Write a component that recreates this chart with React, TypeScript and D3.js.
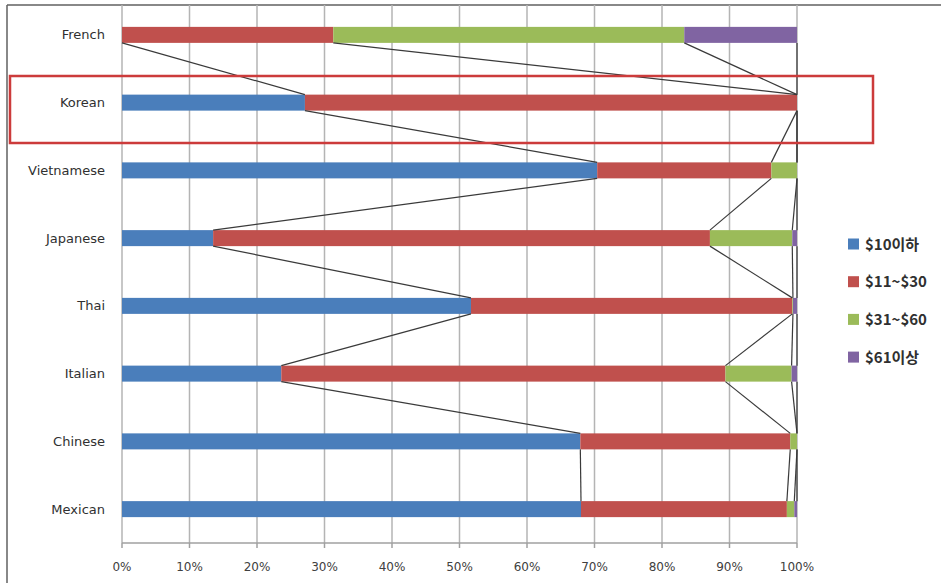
import React from "react";
import * as d3 from "d3";

const categories = ["French", "Korean", "Vietnamese", "Japanese", "Thai", "Italian", "Chinese", "Mexican"];
const seriesNames = ["$10이하", "$11~$30", "$31~$60", "$61이상"];
const under10 = [0, 27.1, 70.4, 13.5, 51.7, 23.6, 67.9, 68.0];
const from11to30 = [31.3, 72.9, 25.8, 73.6, 47.6, 65.8, 31.1, 30.5];
const from31to60 = [52.0, 0, 3.8, 12.2, 0.1, 9.8, 1.0, 1.1];
const over61 = [16.7, 0, 0, 0.7, 0.6, 0.8, 0, 0.4];
const tickValues = [0, 10, 20, 30, 40, 50, 60, 70, 80, 90, 100];
const colors = ["#4a7ebb", "#c0504d", "#9bbb59", "#8064a2"];

const W = 941;
const H = 583;
const left = 122;
const right = 797;
const top = 1;
const bottom = 543;
const barH = 16;

export default function App() {
  const rows = categories.map((c, i) => ({
    cat: c,
    s0: under10[i],
    s1: from11to30[i],
    s2: from31to60[i],
    s3: over61[i],
  }));
  const keys = ["s0", "s1", "s2", "s3"];
  const stacked = d3.stack<any>().keys(keys)(rows);
  const x = d3.scaleLinear().domain([0, 100]).range([left, right]);
  const y = d3.scaleBand().domain(categories).range([top, bottom]).paddingInner(0).paddingOuter(0);
  const cy = (c: string) => (y(c) as number) + y.bandwidth() / 2;

  const seriesLines: { x1: number; y1: number; x2: number; y2: number }[] = [];
  stacked.forEach((layer) => {
    for (let i = 0; i < categories.length - 1; i++) {
      seriesLines.push({
        x1: x(layer[i][1]),
        y1: cy(categories[i]) + barH / 2,
        x2: x(layer[i + 1][1]),
        y2: cy(categories[i + 1]) - barH / 2,
      });
    }
  });

  const font = "'DejaVu Sans', Verdana, sans-serif";

  return (
    <svg width={W} height={H} style={{ position: "absolute", left: 0, top: 0, background: "#fff" }}>
      <rect x={0} y={0} width={W} height={H} fill="#fff" />
      {/* outer frame */}
      <line x1={7} y1={5} x2={W} y2={5} stroke="#606060" strokeWidth={1.5} />
      <line x1={7} y1={5} x2={7} y2={H} stroke="#606060" strokeWidth={1.5} />
      {/* gridlines */}
      {tickValues.map((t) => (
        <line key={"g" + t} x1={x(t)} x2={x(t)} y1={5} y2={bottom} stroke="#b4b4b4" strokeWidth={1.5} />
      ))}
      {/* axis */}
      <line x1={left} x2={right} y1={bottom} y2={bottom} stroke="#a0a0a0" strokeWidth={1.5} />
      {tickValues.map((t) => (
        <line key={"tk" + t} x1={x(t)} x2={x(t)} y1={bottom} y2={bottom + 5} stroke="#a0a0a0" strokeWidth={1.5} />
      ))}
      {tickValues.map((t) => (
        <text key={"tl" + t} x={x(t)} y={571} textAnchor="middle" fontFamily={font} fontSize={12} fill="#404040">
          {t + "%"}
        </text>
      ))}
      {/* bars */}
      {stacked.map((layer, si) =>
        layer.map((d, i) => {
          const w = x(d[1]) - x(d[0]);
          if (w <= 0) return null;
          return (
            <rect
              key={si + "-" + i}
              x={x(d[0])}
              y={cy(categories[i]) - barH / 2}
              width={w}
              height={barH}
              fill={colors[si]}
            />
          );
        })
      )}
      {/* series lines */}
      {seriesLines.map((l, i) => (
        <line key={"sl" + i} x1={l.x1} y1={l.y1} x2={l.x2} y2={l.y2} stroke="#3a3a3a" strokeWidth={1.2} />
      ))}
      {/* category labels */}
      {categories.map((c) => (
        <text key={"c" + c} x={105} y={cy(c) + 4.5} textAnchor="end" fontFamily={font} fontSize={13} fill="#303030">
          {c}
        </text>
      ))}
      {/* highlight */}
      <rect x={10} y={76} width={863} height={67} fill="none" stroke="#cc3b3b" strokeWidth={2.5} />
      {/* legend */}
      {seriesNames.map((n, i) => {
        const ly = 244 + i * 37.7;
        return (
          <g key={"lg" + i}>
            <rect x={848} y={ly - 5.5} width={11} height={11} fill={colors[i]} />
            <text x={865} y={ly + 5.5} fontFamily="'Noto Sans CJK KR', 'Noto Sans', sans-serif" fontWeight="bold" fontSize={15} fill="#303030">
              {n}
            </text>
          </g>
        );
      })}
    </svg>
  );
}
